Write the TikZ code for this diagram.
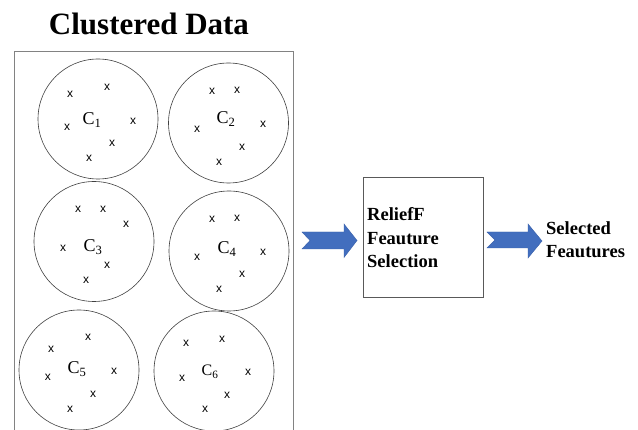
\documentclass[tikz,border=0pt]{standalone}
\usepackage{fontspec}
\setmainfont{Liberation Serif}
\newfontfamily\xfont{Liberation Sans}
\definecolor{arrowblue}{RGB}{66,110,190}
\definecolor{arrowedge}{RGB}{55,95,170}
\definecolor{framegray}{RGB}{130,130,130}
\begin{document}
\begin{tikzpicture}[x=1pt,y=-1pt,
  cluster/.style={circle,draw=black!75,line width=0.6pt,minimum size=120pt,inner sep=0pt},
  clabel/.style={font=\fontsize{18}{18}\selectfont,inner sep=0pt},
  xmark/.style={font=\xfont\fontsize{12}{12}\selectfont,inner sep=0pt},
  blockarrow/.style={fill=arrowblue,draw=arrowedge,line width=0.4pt,line join=miter},
  boldtext/.style={font=\bfseries\fontsize{18.5}{23.5}\selectfont,inner sep=0pt,align=left}]
\useasboundingbox (0,0) rectangle (638,430);
\fill[white] (0,0) rectangle (638,430);
% title
\node[font=\bfseries\fontsize{31}{31}\selectfont,anchor=base,inner sep=0pt] (title) at (149,35) {Clustered Data};
% container frame
\coordinate (fbl) at (14,432);
\coordinate (ftl) at (14,51);
\coordinate (ftr) at (293,51);
\coordinate (fbr) at (293,432);
\draw[framegray,line width=0.8pt] (fbl) -- (ftl) -- (ftr) -- (fbr);
% clusters
\node[cluster] (c1) at (98,119) {};
\node[cluster] (c2) at (228.5,123) {};
\node[cluster] (c3) at (94,241.5) {};
\node[cluster] (c4) at (229,251) {};
\node[cluster] (c5) at (79,370) {};
\node[cluster] (c6) at (214,371) {};
% labels
\node[clabel] (l1) at (92,120) {C\textsubscript{1}};
\node[clabel] (l2) at (226,119) {C\textsubscript{2}};
\node[clabel] (l3) at (93,247) {C\textsubscript{3}};
\node[clabel] (l4) at (227,249) {C\textsubscript{4}};
\node[clabel] (l5) at (77,369) {C\textsubscript{5}};
\node[clabel,font=\fontsize{16}{16}\selectfont] (l6) at (210,372) {C\textsubscript{6}};
% x marks
\foreach \px/\py [count=\i] in {70/94,107/87,67/127,133/121,112/143,89/158,
  212/91,237/90,197/129,263/124,242/147,219/162,
  78/209,103/209,126/224,63/248,107/265,86/280,
  212/219,237/218,197/257,263/252,242/274,219/289,
  88/337,51/349,48/377,114/371,93/394,70/409,
  186/343,222/339,182/378,248/372,227/395,205/409}
  \node[xmark] (x\i) at (\px,\py) {x};
% process box
\node[draw=black!65,line width=0.6pt,minimum width=120pt,minimum height=120pt,inner sep=0pt] (box) at (423,237) {};
\node[boldtext,anchor=base west] (boxtext) at (367,268) {ReliefF\\Feauture\\Selection};
% output text
\node[boldtext,anchor=base west] (out) at (546,258) {Selected\\Feautures};
% block arrows
\coordinate (a1) at (302,240.5);
\coordinate (a2) at (487,240);
\draw[blockarrow] (a1) ++(0,-8.5) -- ++(42,0) -- ++(0,-8) -- ++(13,16.5) -- ++(-13,17) -- ++(0,-8.5)
  -- ++(-42,0) -- ++(8,-8.5) -- cycle;
\draw[blockarrow] (a2) ++(0,-8) -- ++(41,0) -- ++(0,-8) -- ++(14,17) -- ++(-14,17) -- ++(0,-10)
  -- ++(-41,0) -- ++(8,-8) -- cycle;
\end{tikzpicture}
\end{document}
